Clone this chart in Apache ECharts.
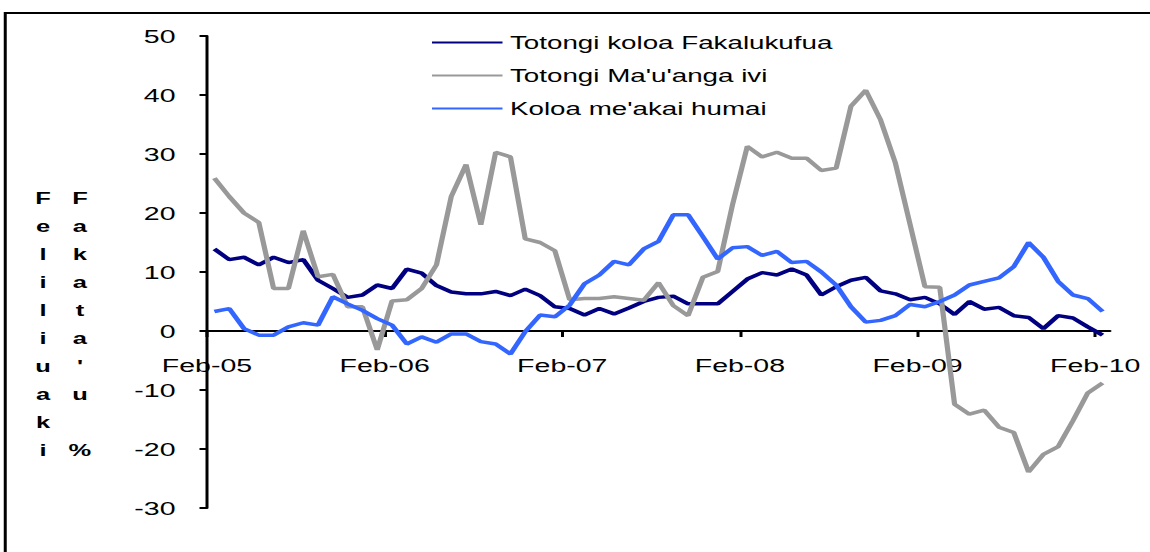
<!DOCTYPE html>
<html>
<head>
<meta charset="utf-8">
<script src="https://cdn.jsdelivr.net/npm/echarts@6/dist/echarts.min.js"></script>
<style>
html,body{margin:0;padding:0;background:#fff;overflow:hidden;}
#wrap{width:1150px;height:552px;overflow:hidden;position:relative;}
#main{height:552px;transform-origin:0 0;}
</style>
</head>
<body>
<div id="wrap"><div id="main"></div></div>
<script>
// ticks every 12 months, Feb-05 .. Feb-10
var tickLabels=['Feb-05','Feb-06','Feb-07','Feb-08','Feb-09','Feb-10'];
var tickMonths=[0,12,24,36,48,60];

var seriesNames=['Totongi koloa Fakalukufua',"Totongi Ma'u'anga ivi","Koloa me'akai humai"];

var fakalukufua=[13.9,12.1,12.5,11.2,12.5,11.6,12.1,8.6,7.2,5.7,6.1,7.8,
    7.2,10.5,9.8,7.7,6.6,6.3,6.3,6.7,6.0,7.1,6.0,4.1,
    3.8,2.7,3.8,2.9,3.9,5.0,5.7,5.9,4.6,4.6,4.6,6.7,
    8.8,9.9,9.5,10.5,9.5,6.1,7.5,8.6,9.1,6.8,6.3,5.3,
    5.7,4.6,2.8,5.0,3.7,4.0,2.6,2.3,0.4,2.6,2.2,0.7,-0.7];

var mauangaIvi=[25.9,22.8,20.0,18.4,7.2,7.2,17.0,9.2,9.6,4.1,4.1,-3.2,
    5.1,5.3,7.2,11.2,22.8,28.2,18.0,30.3,29.5,15.6,15.0,13.6,
    5.3,5.5,5.5,5.8,5.5,5.2,8.2,4.3,2.6,9.1,10.1,21.4,
    31.3,29.5,30.3,29.3,29.3,27.2,27.6,38.1,40.8,35.8,28.5,18.0,
    7.5,7.4,-12.4,-14.1,-13.4,-16.3,-17.2,-23.9,-20.9,-19.6,-15.2,-10.5,-8.8];

var meakaiHumai=[3.3,3.8,0.4,-0.7,-0.7,0.7,1.4,1.0,5.8,4.6,3.5,2.1,
    1.0,-2.2,-1.0,-1.9,-0.5,-0.5,-1.8,-2.2,-3.9,-0.1,2.7,2.4,
    4.4,8.0,9.5,11.8,11.2,13.9,15.2,19.7,19.7,16.0,12.2,14.1,
    14.3,12.8,13.5,11.6,11.8,10.0,7.8,4.1,1.5,1.8,2.6,4.5,
    4.1,5.0,6.1,7.8,8.4,9.0,10.9,15.0,12.5,8.4,6.1,5.5,3.3];

var colors=['#000080','#999999','#3366FF'];

var yMin=-30,yMax=50;

// the original picture is stretched sideways, so draw narrow and stretch
var S=1.5;
var W=1150/S;
var dom=document.getElementById('main');
dom.style.width=W+'px';
dom.style.transform='scaleX('+S+')';

var FONT='"Liberation Sans", Arial, sans-serif';
var gridTop=36,gridBottom=44;
// x axis (with its labels) sits on the zero line
var plotH=552-gridTop-gridBottom;
var xOffset=-plotH*(0-yMin)/(yMax-yMin);

function toPoints(arr){
    return arr.map(function(v,i){return [i+0.5,v];});
}

var myChart=echarts.init(dom,null,{renderer:'svg',width:W,height:552});
var option={
    animation:false,
    grid:{left:138,right:W-740,top:gridTop,bottom:gridBottom},
    legend:{
        orient:'vertical',
        left:288,top:33,padding:0,
        icon:'rect',
        itemWidth:47,itemHeight:2,itemGap:14,
        textStyle:{fontSize:18.5,color:'#000',fontFamily:FONT,lineHeight:18},
        data:seriesNames
    },
    xAxis:{
        type:'value',
        min:0,max:61,
        position:'bottom',
        offset:xOffset,
        splitLine:{show:false},
        axisLine:{onZero:false,lineStyle:{color:'#000',width:2}},
        axisTick:{show:true,length:6,customValues:tickMonths,lineStyle:{color:'#000',width:2}},
        axisLabel:{
            customValues:tickMonths,
            margin:25,
            fontSize:19,color:'#000',fontFamily:FONT,
            formatter:function(v){
                var k=tickMonths.indexOf(v);
                return k<0?'':tickLabels[k];
            }
        }
    },
    yAxis:{
        type:'value',
        min:yMin,max:yMax,interval:10,
        splitLine:{show:false},
        axisLine:{show:true,onZero:false,lineStyle:{color:'#000',width:2}},
        axisTick:{show:true,length:5,lineStyle:{color:'#000',width:2}},
        axisLabel:{margin:21,fontSize:19,color:'#000',fontFamily:FONT}
    },
    graphic:[
        {type:'rect',shape:{x:3.5,y:13,width:900,height:700},
            style:{fill:'none',stroke:'#000',lineWidth:2},silent:true},
        {type:'text',x:28.7,y:184,
            style:{text:'F\ne\nl\ni\nl\ni\nu\na\nk\ni',fill:'#000',fontSize:17,fontWeight:'bold',
                fontFamily:FONT,align:'center',verticalAlign:'top',lineHeight:28}},
        {type:'text',x:53.3,y:184,
            style:{text:"F\na\nk\na\nt\na\n'\nu\n \n%",fill:'#000',fontSize:17,fontWeight:'bold',
                fontFamily:FONT,align:'center',verticalAlign:'top',lineHeight:28}}
    ],
    series:[
        {name:seriesNames[0],type:'line',symbol:'none',data:toPoints(fakalukufua),
            color:colors[0],lineStyle:{width:3.5,color:colors[0]}},
        {name:seriesNames[1],type:'line',symbol:'none',data:toPoints(mauangaIvi),
            color:colors[1],lineStyle:{width:3.5,color:colors[1]}},
        {name:seriesNames[2],type:'line',symbol:'none',data:toPoints(meakaiHumai),
            color:colors[2],lineStyle:{width:3.5,color:colors[2]}}
    ]
};
myChart.setOption(option);
</script>
</body>
</html>
